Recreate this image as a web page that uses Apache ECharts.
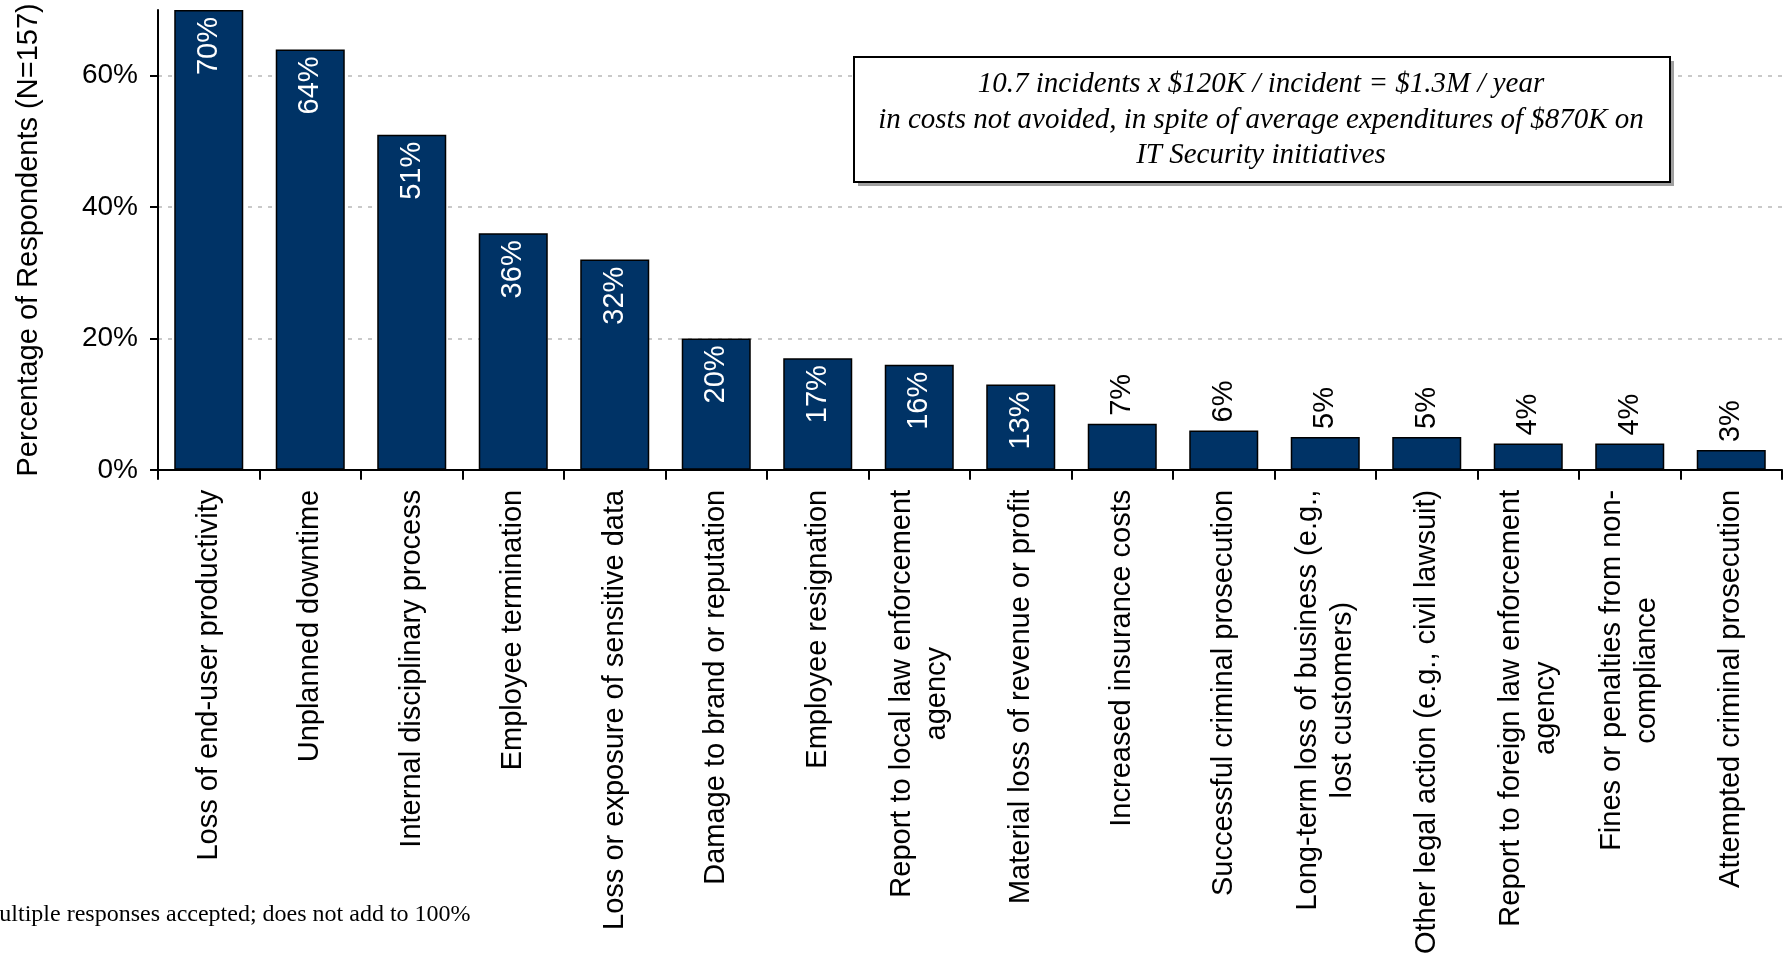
<!DOCTYPE html>
<html>
<head>
<meta charset="utf-8">
<style>
  html, body { margin: 0; padding: 0; background: #ffffff; }
  #chart { width: 1789px; height: 957px; }
</style>
<script src="https://cdn.jsdelivr.net/npm/echarts@6/dist/echarts.min.js"></script>
</head>
<body>
<div id="chart"></div>
<script>
// Consequences of security incidents, share of respondents (multiple answers)
const categories = [
  'Loss of end-user productivity',
  'Unplanned downtime',
  'Internal disciplinary process',
  'Employee termination',
  'Loss or exposure of sensitive data',
  'Damage to brand or reputation',
  'Employee resignation',
  'Report to local law enforcement\nagency',
  'Material loss of revenue or profit',
  'Increased insurance costs',
  'Successful criminal prosecution',
  'Long-term loss of business (e.g.,\nlost customers)',
  'Other legal action (e.g., civil lawsuit)',
  'Report to foreign law enforcement\nagency',
  'Fines or penalties from non-\ncompliance',
  'Attempted criminal prosecution'
];
const percentages = [70, 64, 51, 36, 32, 20, 17, 16, 13, 7, 6, 5, 5, 4, 4, 3];
const yTicks = [0, 20, 40, 60];

const axisTitle = 'Percentage of Respondents (N=157)';
const calloutLines = [
  '10.7 incidents x $120K / incident = $1.3M / year',
  'in costs not avoided, in spite of average expenditures of $870K on',
  'IT Security initiatives'
];
const footnote = 'Multiple responses accepted; does not add to 100%';

const SANS = 'Arial, "Liberation Sans", Helvetica, sans-serif';
const SERIF = '"Times New Roman", "Liberation Serif", serif';
const NAVY = '#003366';
const INSIDE_MIN = 10; // bars at least this tall carry their label inside

const chart = echarts.init(document.getElementById('chart'), null, { renderer: 'canvas' });

const barData = percentages.map(function (v) {
  const inside = v >= INSIDE_MIN;
  return {
    value: v,
    label: inside
      ? { position: 'insideTop', distance: 7, align: 'right', verticalAlign: 'middle', color: '#ffffff' }
      : { position: 'top', distance: 8, align: 'left', verticalAlign: 'middle', color: '#000000' }
  };
});

const option = {
  backgroundColor: '#ffffff',
  animation: false,
  grid: { left: 158, right: 7, top: 10, bottom: 486, containLabel: false },
  xAxis: {
    type: 'category',
    data: categories,
    boundaryGap: true,
    axisLine: { show: true, lineStyle: { color: '#000000', width: 2 } },
    axisTick: { show: true, alignWithLabel: false, length: 10, lineStyle: { color: '#000000', width: 2 } },
    axisLabel: {
      interval: 0,
      rotate: 90,
      margin: 20,
      fontFamily: SANS,
      fontSize: 29,
      color: '#000000',
      lineHeight: 35,
      formatter: function (val) {
        return val.split('\n').map(function (s) { return '{c|' + s + '}'; }).join('\n');
      },
      rich: { c: { align: 'center', fontFamily: SANS, fontSize: 29, lineHeight: 35, color: '#000000' } }
    },
    splitLine: { show: false }
  },
  yAxis: {
    type: 'value',
    min: 0,
    max: 70,
    interval: 20,
    name: axisTitle,
    nameLocation: 'middle',
    nameRotate: 90,
    nameGap: 115,
    nameTextStyle: { fontFamily: SANS, fontSize: 29, color: '#000000' },
    axisLine: { show: true, lineStyle: { color: '#000000', width: 2 } },
    axisTick: { show: true, length: 8, customValues: yTicks, lineStyle: { color: '#000000', width: 2 } },
    axisLabel: {
      margin: 20,
      fontFamily: SANS,
      fontSize: 28,
      color: '#000000',
      customValues: yTicks,
      formatter: function (v) { return v + '%'; }
    },
    splitLine: { show: true, showMinLine: false, lineStyle: { color: '#b8b8b8', width: 1.5, type: [4, 6] } }
  },
  series: [{
    type: 'bar',
    data: barData,
    barCategoryGap: '32%',
    itemStyle: { color: NAVY, borderColor: '#000000', borderWidth: 1.5 },
    label: {
      show: true,
      rotate: 90,
      fontFamily: SANS,
      fontSize: 29,
      formatter: '{c}%'
    },
    emphasis: { disabled: true }
  }],
  graphic: [
    // callout shadow
    { type: 'rect', left: 858, top: 61, shape: { width: 816, height: 125 }, style: { fill: '#a0a0a0' }, z: 10 },
    // callout box
    { type: 'rect', left: 853, top: 56, shape: { width: 816, height: 125 }, style: { fill: '#ffffff', stroke: '#000000', lineWidth: 2 }, z: 11 },
    {
      type: 'text', x: 1261, y: 84, z: 12,
      style: { text: calloutLines[0], font: 'italic 29px ' + SERIF, fill: '#000000', align: 'center', verticalAlign: 'middle' }
    },
    {
      type: 'text', x: 1261, y: 120, z: 12,
      style: { text: calloutLines[1], font: 'italic 29px ' + SERIF, fill: '#000000', align: 'center', verticalAlign: 'middle' }
    },
    {
      type: 'text', x: 1261, y: 155, z: 12,
      style: { text: calloutLines[2], font: 'italic 29px ' + SERIF, fill: '#000000', align: 'center', verticalAlign: 'middle' }
    },
    {
      type: 'text', x: -22, y: 915, z: 12,
      style: { text: footnote, font: '24px ' + SERIF, fill: '#000000', align: 'left', verticalAlign: 'middle' }
    }
  ]
};

chart.setOption(option);
</script>
</body>
</html>
